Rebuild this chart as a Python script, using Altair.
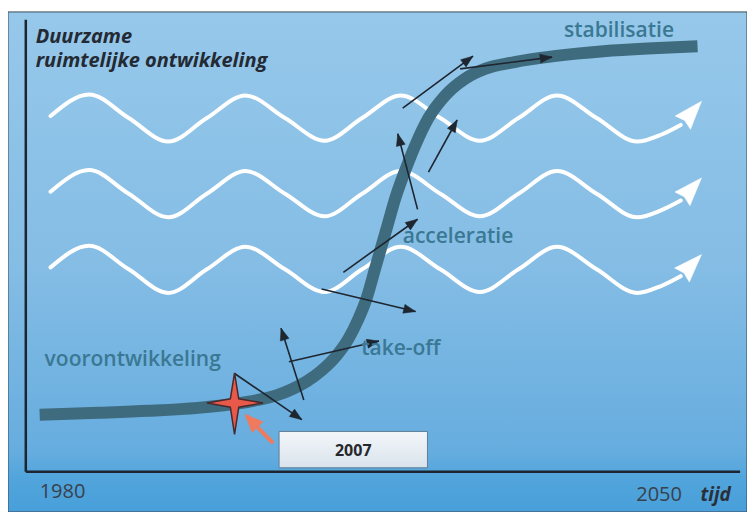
import altair as alt
import pandas as pd

# ---------------- data (diagram units = picture pixels) ----------------
# S-curve ("Duurzame ruimtelijke ontwikkeling" over "tijd")
curve_x = [40, 100, 150, 200, 237, 260, 280, 295, 310, 325, 340, 352, 362, 370, 380, 390, 400, 410, 420, 433, 450, 470, 490, 520, 560, 610, 660, 705]
curve_y = [422, 420, 418, 415, 411, 407, 402, 396, 388, 377, 362, 345, 325, 305, 270, 235, 200, 172, 147, 120, 97, 80, 70, 63, 57, 52, 49, 47]

# three white waves (quarter-period points)
wave_x = [51, 90, 130, 170, 209, 248, 288, 328, 366, 405, 445, 485, 524, 563, 603, 644, 668, 688]
wave1_y = [118, 96, 120, 144, 120, 97, 120, 143, 120, 97, 120, 143, 120, 97, 120, 144, 137, 127]
wave2_y = [195, 173, 197, 221, 197, 174, 197, 220, 197, 174, 197, 220, 197, 174, 197, 221, 214, 204]
wave3_y = [272, 250, 274, 298, 274, 251, 274, 297, 274, 251, 274, 297, 274, 251, 274, 298, 291, 281]
wave_tip_x = [709, 709, 709]
wave_tip_y = [103, 181, 259]

# thin black arrows: start -> tip
arrow_sx = [237, 307, 292, 325, 347, 422, 433, 407, 465]
arrow_sy = [380, 407, 368, 294, 277, 213, 175, 110, 70]
arrow_tx = [305, 284, 383, 420, 422, 402, 462, 478, 558]
arrow_ty = [427, 334, 347, 317, 223, 136, 122, 57, 58]

# the 2007 marker
star_x, star_y = [237], [410]
red_sx, red_sy, red_tx, red_ty = [276], [451], [249], [423]
box_x0, box_x1, box_y0, box_y1 = [282], [432], [439], [476]

# frame / axes
frame_x0, frame_x1, frame_y0, frame_y1 = [8], [755], [12], [521]
yaxis_x, yaxis_y0, yaxis_y1 = [26], [20], [480]
xaxis_x0, xaxis_x1, xaxis_y = [26], [748], [480]

# texts
title_text = ["Duurzame\nruimtelijke ontwikkeling"]
title_x, title_y = [36], [44]
phase_labels = ["stabilisatie", "acceleratie", "take-off", "voorontwikkeling"]
phase_x = [570, 407, 365, 45]
phase_y = [38, 247, 361, 372]
year_labels = ["1980", "2050"]
year_x, year_y = [40, 643], [507, 510]
axis_name, axis_name_x, axis_name_y = ["tijd"], [708], [510]
marker_label, marker_x, marker_y = ["2007"], [357], [464]

# ---------------- scales ----------------
W, H = 739, 504
xs = alt.Scale(domain=[8, 755])
ys = alt.Scale(domain=[8, 521], reverse=True)


def X(f):
    return alt.X(f, type="quantitative", scale=xs, axis=None)


def Y(f):
    return alt.Y(f, type="quantitative", scale=ys, axis=None)


ANGLE = "(atan2(datum.tx - datum.sx, datum.sy - datum.ty) * 180 / PI + 360) % 360"
HEAD = "M0,0 L0.75,2 L-0.75,2 Z"
BIGHEAD = "M0,0 L0.72,2 L0,1.8 L-0.72,2 Z"
STAR = "M0,-1 L0.14,-0.14 L0.95,0 L0.14,0.14 L0,1.05 L-0.14,0.14 L-0.92,0 L-0.14,-0.14 Z"

FONT = "Open Sans"
TEAL = "#3a7893"
DARK = "#242a33"

# background
bg = pd.DataFrame({"x0": frame_x0, "x1": frame_x1, "y0": frame_y0, "y1": frame_y1})
background = alt.Chart(bg).mark_rect(
    color=alt.Gradient(
        gradient="linear",
        stops=[
            alt.GradientStop(offset=0, color="#96c8ea"),
            alt.GradientStop(offset=0.5, color="#85bde5"),
            alt.GradientStop(offset=0.88, color="#66addf"),
            alt.GradientStop(offset=0.93, color="#52a5dc"),
            alt.GradientStop(offset=1, color="#489fd9"),
        ],
        x1=0, x2=0, y1=0, y2=1,
    ),
    stroke="#3c4a58",
    strokeWidth=1,
).encode(x=X("x0"), x2="x1", y=Y("y0"), y2="y1")

yax = pd.DataFrame({"x": yaxis_x, "y0": yaxis_y0, "y1": yaxis_y1})
xax = pd.DataFrame({"x0": xaxis_x0, "x1": xaxis_x1, "y": xaxis_y})
yaxis = alt.Chart(yax).mark_rule(color="#1c2530", strokeWidth=2.5).encode(x=X("x"), y=Y("y0"), y2="y1")
xaxis = alt.Chart(xax).mark_rule(color="#1c2530", strokeWidth=2.5).encode(x=X("x0"), x2="x1", y=Y("y"))

# waves
wrows = []
for name, ys_ in (("w1", wave1_y), ("w2", wave2_y), ("w3", wave3_y)):
    for xv, yv in zip(wave_x, ys_):
        wrows.append({"wave": name, "x": xv, "y": yv})
waves = alt.Chart(pd.DataFrame(wrows)).mark_line(
    color="white", strokeWidth=4, interpolate="monotone", strokeCap="round"
).encode(x=X("x"), y=Y("y"), detail="wave:N")

wh = pd.DataFrame({
    "sx": [wave_x[-1]] * 3,
    "sy": [wave1_y[-1], wave2_y[-1], wave3_y[-1]],
    "tx": wave_tip_x,
    "ty": wave_tip_y,
})
wave_heads = alt.Chart(wh).transform_calculate(ang=ANGLE).mark_point(
    shape=BIGHEAD, size=800, filled=True, fill="white", stroke="white", strokeWidth=0.5, opacity=1
).encode(x=X("tx"), y=Y("ty"), angle=alt.Angle("ang:Q", scale=None))

# S-curve
curve = alt.Chart(pd.DataFrame({"x": curve_x, "y": curve_y})).mark_line(
    color="#3f6b7f", strokeWidth=12, interpolate="monotone"
).encode(x=X("x"), y=Y("y"))

# black arrows
ar = pd.DataFrame({"id": list(range(len(arrow_sx))), "sx": arrow_sx, "sy": arrow_sy, "tx": arrow_tx, "ty": arrow_ty})
shafts = alt.Chart(ar).mark_rule(color="#1e2630", strokeWidth=1.6).encode(
    x=X("sx"), y=Y("sy"), x2="tx", y2="ty"
)
heads = alt.Chart(ar).transform_calculate(ang=ANGLE).mark_point(
    shape=HEAD, size=144, filled=True, fill="#1e2630", stroke="#1e2630", strokeWidth=0.5, opacity=1
).encode(x=X("tx"), y=Y("ty"), angle=alt.Angle("ang:Q", scale=None))

# star + red arrow
star = alt.Chart(pd.DataFrame({"x": star_x, "y": star_y})).mark_point(
    shape=STAR, size=3600, filled=True, fill="#e8594a", stroke="#4a2a2e", strokeWidth=1.5, opacity=1
).encode(x=X("x"), y=Y("y"))

ra = pd.DataFrame({"sx": red_sx, "sy": red_sy, "tx": red_tx, "ty": red_ty})
red_shaft = alt.Chart(ra).mark_rule(color="#ef7a5d", strokeWidth=4).encode(
    x=X("sx"), y=Y("sy"), x2=alt.X2("tx"), y2=alt.Y2("ty")
)
red_head = alt.Chart(ra).transform_calculate(ang=ANGLE).mark_point(
    shape="M0,0 L0.85,2 L-0.85,2 Z", size=230, filled=True, fill="#ef7a5d", stroke="#ef7a5d", opacity=1
).encode(x=X("tx"), y=Y("ty"), angle=alt.Angle("ang:Q", scale=None))

box = alt.Chart(pd.DataFrame({"x0": box_x0, "x1": box_x1, "y0": box_y0, "y1": box_y1})).mark_rect(
    color=alt.Gradient(
        gradient="linear",
        stops=[alt.GradientStop(offset=0, color="#f3f6f9"), alt.GradientStop(offset=1, color="#d9e3ec")],
        x1=0, x2=0, y1=0, y2=1,
    ),
    stroke="#5f7f95",
    strokeWidth=1,
).encode(x=X("x0"), x2="x1", y=Y("y0"), y2="y1")

# texts
titles = alt.Chart(pd.DataFrame({"t": title_text, "x": title_x, "y": title_y})).mark_text(
    font=FONT, fontSize=20, fontWeight="bold", fontStyle="italic", color=DARK, align="left",
    baseline="alphabetic", lineBreak="\n", lineHeight=24
).encode(x=X("x"), y=Y("y"), text="t:N")

phases = alt.Chart(pd.DataFrame({"t": phase_labels, "x": phase_x, "y": phase_y})).mark_text(
    font=FONT, fontSize=21, fontWeight=600, color=TEAL, align="left", baseline="alphabetic"
).encode(x=X("x"), y=Y("y"), text="t:N")

years = alt.Chart(pd.DataFrame({"t": year_labels, "x": year_x, "y": year_y})).mark_text(
    font=FONT, fontSize=20, color="#38414d", align="left", baseline="alphabetic"
).encode(x=X("x"), y=Y("y"), text="t:N")

tijd = alt.Chart(pd.DataFrame({"t": axis_name, "x": axis_name_x, "y": axis_name_y})).mark_text(
    font=FONT, fontSize=19, fontWeight="bold", fontStyle="italic", color="#2a303a", align="left", baseline="alphabetic"
).encode(x=X("x"), y=Y("y"), text="t:N")

marker = alt.Chart(pd.DataFrame({"t": marker_label, "x": marker_x, "y": marker_y})).mark_text(
    font=FONT, fontSize=16, fontWeight="bold", color="#26282c", align="center", baseline="alphabetic"
).encode(x=X("x"), y=Y("y"), text="t:N")

chart = alt.layer(
    background, yaxis, xaxis, waves, wave_heads, curve, shafts, heads,
    star, red_shaft, red_head, box, titles, phases, years, tijd, marker,
).properties(
    width=W, height=H, padding=0, autosize=alt.AutoSizeParams(type="none"), background="white"
).configure_view(stroke=None)

chart.save("out.html", embed_options={"renderer": "svg", "actions": False})
